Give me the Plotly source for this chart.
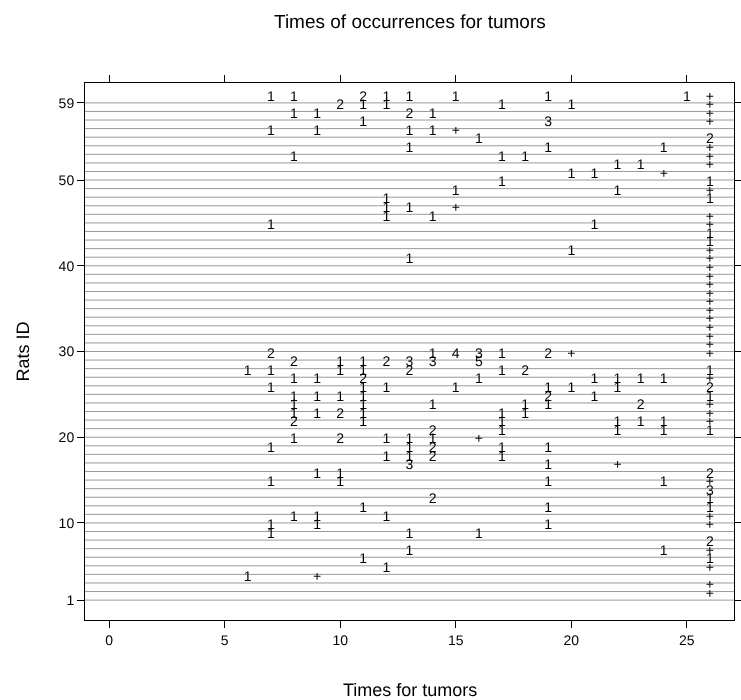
import plotly.graph_objects as go

# ---- data: one entry per mark (rat id, time, label) ----
ev_rat = (
    [59]*9 + [58]*6 + [57]*5 + [56]*3 + [55]*5 + [54]*2 + [53]*4 + [52]*4 +
    [51]*3 + [50]*3 + [49]*2 + [48]*3 + [47]*2 + [46]*3 + [45]*3 + [44]*3 +
    [43]*1 + [42]*1 + [41]*2 + [40]*2 +
    [39, 38, 37, 36, 35, 34, 33, 32, 31, 30] +
    [29]*8 + [28]*7 + [27]*8 + [26]*9 + [25]*8 + [24]*7 + [23]*7 + [22]*7 +
    [21]*7 + [20]*5 + [19]*6 + [18]*5 + [17]*4 + [16]*3 + [15]*3 + [14]*5 +
    [13]*1 + [12]*2 + [11]*3 + [10]*4 + [9]*4 + [8]*3 + [7]*1 + [6]*3 +
    [5]*2 + [4]*2 + [3]*2 + [2]*1 + [1]*1
)
ev_time = (
    [7, 8, 11, 12, 13, 15, 19, 25, 26] +      # 59
    [10, 11, 12, 17, 20, 26] +                # 58
    [8, 9, 13, 14, 26] +                      # 57
    [11, 19, 26] +                            # 56
    [7, 9, 13, 14, 15] +                      # 55
    [16, 26] +                                # 54
    [13, 19, 24, 26] +                        # 53
    [8, 17, 18, 26] +                         # 52
    [22, 23, 26] +                            # 51
    [20, 21, 24] +                            # 50
    [17, 26] +                                # 49
    [15, 22, 26] +                            # 48
    [12, 26] +                                # 47
    [12, 13, 15] +                            # 46
    [12, 14, 26] +                            # 45
    [7, 21, 26] +                             # 44
    [26] + [26] +                             # 43, 42
    [20, 26] +                                # 41
    [13, 26] +                                # 40
    [26]*10 +                                 # 39..30
    [7, 14, 15, 16, 17, 19, 20, 26] +         # 29
    [8, 10, 11, 12, 13, 14, 16] +             # 28
    [6, 7, 10, 11, 13, 17, 18, 26] +          # 27
    [8, 9, 11, 16, 21, 22, 23, 24, 26] +      # 26
    [7, 11, 12, 15, 19, 20, 22, 26] +         # 25
    [8, 9, 10, 11, 19, 21, 26] +              # 24
    [8, 11, 14, 18, 19, 23, 26] +             # 23
    [8, 9, 10, 11, 17, 18, 26] +              # 22
    [8, 11, 17, 22, 23, 24, 26] +             # 21
    [14, 17, 22, 24, 26] +                    # 20
    [8, 10, 12, 13, 14, 16] +                 # 19
    [7, 13, 14, 17, 19] +                     # 18
    [12, 13, 14, 17] +                        # 17
    [13, 19, 22] +                            # 16
    [9, 10, 26] +                             # 15
    [7, 10, 19, 24, 26] +                     # 14
    [26] +                                    # 13
    [14, 26] +                                # 12
    [11, 19, 26] +                            # 11
    [8, 9, 12, 26] +                          # 10
    [7, 9, 19, 26] +                          # 9
    [7, 13, 16] +                             # 8
    [26] +                                    # 7
    [13, 24, 26] +                            # 6
    [11, 26] +                                # 5
    [12, 26] +                                # 4
    [6, 9] +                                  # 3
    [26] + [26]                               # 2, 1
)
ev_label = (
    ["1", "1", "2", "1", "1", "1", "1", "1", "+"] +
    ["2", "1", "1", "1", "1", "+"] +
    ["1", "1", "2", "1", "+"] +
    ["1", "3", "+"] +
    ["1", "1", "1", "1", "+"] +
    ["1", "2"] +
    ["1", "1", "1", "+"] +
    ["1", "1", "1", "+"] +
    ["1", "1", "+"] +
    ["1", "1", "+"] +
    ["1", "1"] +
    ["1", "1", "+"] +
    ["1", "1"] +
    ["1", "1", "+"] +
    ["1", "1", "+"] +
    ["1", "1", "+"] +
    ["1"] + ["1"] +
    ["1", "+"] +
    ["1", "+"] +
    ["+"]*10 +
    ["2", "1", "4", "3", "1", "2", "+", "+"] +
    ["2", "1", "1", "2", "3", "3", "5"] +
    ["1", "1", "1", "1", "2", "1", "2", "1"] +
    ["1", "1", "2", "1", "1", "1", "1", "1", "+"] +
    ["1", "1", "1", "1", "1", "1", "1", "2"] +
    ["1", "1", "1", "1", "2", "1", "1"] +
    ["1", "1", "1", "1", "1", "2", "+"] +
    ["1", "1", "2", "1", "1", "1", "+"] +
    ["2", "1", "1", "1", "1", "1", "+"] +
    ["2", "1", "1", "1", "1"] +
    ["1", "2", "1", "1", "1", "+"] +
    ["1", "1", "2", "1", "1"] +
    ["1", "1", "2", "1"] +
    ["3", "1", "+"] +
    ["1", "1", "2"] +
    ["1", "1", "1", "1", "+"] +
    ["3"] +
    ["2", "1"] +
    ["1", "1", "1"] +
    ["1", "1", "1", "+"] +
    ["1", "1", "1", "+"] +
    ["1", "1", "1"] +
    ["2"] +
    ["1", "1", "+"] +
    ["1", "1"] +
    ["1", "+"] +
    ["1", "+"] +
    ["+"] + ["+"]
)

rat_ids = list(range(1, 60))
x_ticks = [0, 5, 10, 15, 20, 25]
y_ticks = [1, 10, 20, 30, 40, 50, 59]
x_range = [-1.04, 27.04]
y_range = [-1.32, 61.32]

TEXT_LIFT = 0.68  # labels sit just above their rat's line
FONT = "Liberation Sans, Arial, Helvetica, sans-serif"

fig = go.Figure()

# one horizontal line per rat
for r in rat_ids:
    fig.add_shape(type="line", xref="paper", x0=0, x1=1, yref="y", y0=r, y1=r,
                  line=dict(color="#9a9a9a", width=1), layer="below")

fig.add_trace(go.Scatter(
    x=ev_time,
    y=[r + TEXT_LIFT for r in ev_rat],
    mode="text",
    text=ev_label,
    textposition="middle center",
    textfont=dict(family=FONT, size=14, color="black"),
    hoverinfo="skip",
    showlegend=False,
))

axis_common = dict(
    showgrid=False, zeroline=False, showline=True, linecolor="black",
    linewidth=1, mirror="ticks", ticks="outside", ticklen=7,
    tickcolor="black", tickwidth=1, automargin=False,
    tickfont=dict(family=FONT, size=14, color="black"),
)

fig.update_layout(
    width=741, height=700,
    margin=dict(l=85, r=7, t=83, b=80),
    paper_bgcolor="white", plot_bgcolor="white",
    xaxis=dict(range=x_range, tickvals=x_ticks, ticktext=[str(v) for v in x_ticks],
               **axis_common),
    yaxis=dict(range=y_range, tickvals=y_ticks, ticktext=[str(v) for v in y_ticks],
               **axis_common),
    annotations=[
        dict(text="Times of occurrences for tumors", xref="paper", yref="paper",
             x=0.5, y=1.1136, xanchor="center", yanchor="middle", showarrow=False,
             font=dict(family=FONT, size=19, color="black")),
        dict(text="Times for tumors", xref="paper", yref="paper",
             x=0.5, y=-0.1304, xanchor="center", yanchor="middle", showarrow=False,
             font=dict(family=FONT, size=18, color="black")),
        dict(text="Rats ID", xref="paper", yref="paper", textangle=-90,
             x=-0.097, y=0.5, xanchor="center", yanchor="middle", showarrow=False,
             font=dict(family=FONT, size=18, color="black")),
    ],
)

post_js = (
    "document.body.style.margin='0';"
    "document.body.style.overflow='hidden';"
    "var st=document.createElement('style');"
    "st.textContent='.main-svg{will-change:transform;} svg text{text-rendering:geometricPrecision;}';"
    "document.head.appendChild(st);"
)

fig.write_html("out.html", post_script=post_js,
               config={"displayModeBar": False, "staticPlot": True})
